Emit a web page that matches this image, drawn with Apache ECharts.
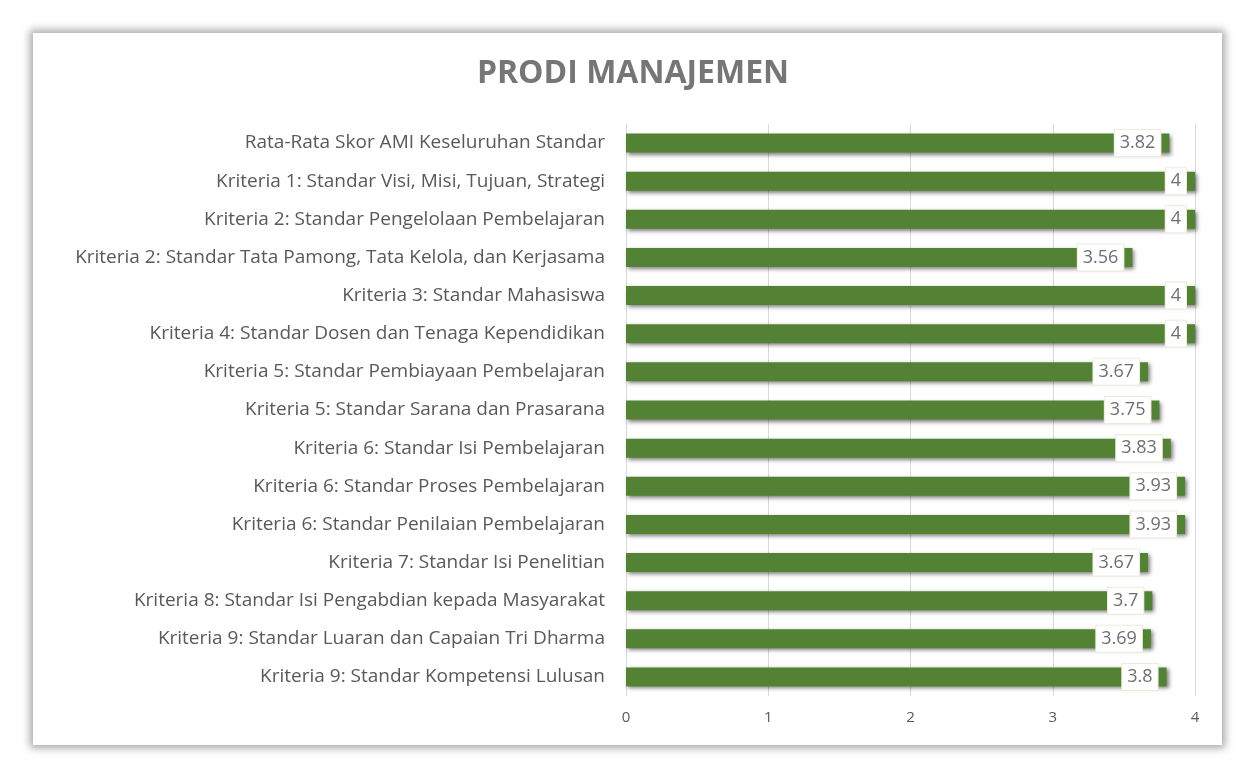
<!DOCTYPE html>
<html><head><meta charset="utf-8">
<script src="https://cdn.jsdelivr.net/npm/echarts@6/dist/echarts.min.js"></script>
<style>
html,body{margin:0;padding:0;background:#fff;width:1256px;height:777px;overflow:hidden}
#card{position:absolute;left:33px;top:33px;width:1189px;height:712px;background:#fff;box-shadow:0 0 8px 3px rgba(0,0,0,0.35)}
#c{position:absolute;left:0;top:0;width:1256px;height:777px}
</style></head><body>
<div id="card"></div><div id="c"></div>
<script>
const categories = [
"Rata-Rata Skor AMI Keseluruhan Standar",
"Kriteria 1: Standar Visi, Misi, Tujuan, Strategi",
"Kriteria 2: Standar Pengelolaan Pembelajaran",
"Kriteria 2: Standar Tata Pamong, Tata Kelola, dan Kerjasama",
"Kriteria 3: Standar Mahasiswa",
"Kriteria 4: Standar Dosen dan Tenaga Kependidikan",
"Kriteria 5: Standar Pembiayaan Pembelajaran",
"Kriteria 5: Standar Sarana dan Prasarana",
"Kriteria 6: Standar Isi Pembelajaran",
"Kriteria 6: Standar Proses Pembelajaran",
"Kriteria 6: Standar Penilaian Pembelajaran",
"Kriteria 7: Standar Isi Penelitian",
"Kriteria 8: Standar Isi Pengabdian kepada Masyarakat",
"Kriteria 9: Standar Luaran dan Capaian Tri Dharma",
"Kriteria 9: Standar Kompetensi Lulusan"
];
const values = [3.82,4,4,3.56,4,4,3.67,3.75,3.83,3.93,3.93,3.67,3.7,3.69,3.8];
const chart = echarts.init(document.getElementById('c'));
chart.setOption({
  backgroundColor:'transparent',
  animation:false,
  title:{text:'PRODI MANAJEMEN',left:628,top:53,textAlign:'center',
    textStyle:{fontFamily:'Open Sans',fontSize:32,fontWeight:'bold',color:'#767676'}},
  grid:{left:626,right:61,top:124,bottom:81},
  xAxis:{type:'value',min:0,max:4,interval:1,
    axisLabel:{fontFamily:'Open Sans',fontSize:15,color:'#595959',margin:14},
    splitLine:{lineStyle:{color:'#d9d9d9'}},axisLine:{show:false},axisTick:{show:false}},
  yAxis:{type:'category',data:categories,inverse:true,
    axisLabel:{fontFamily:'Open Sans',fontSize:19,color:'#595959',margin:21},
    axisLine:{show:true,lineStyle:{color:'#d9d9d9'}},axisTick:{show:false}},
  series:[{type:'bar',data:values,barWidth:19,
    itemStyle:{color:'#548235',shadowColor:'rgba(0,0,0,0.5)',shadowBlur:4,shadowOffsetX:2,shadowOffsetY:2},
    label:{show:true,position:'insideRight',offset:[-4,0],
      fontFamily:'Open Sans',fontSize:18,color:'#6f6f6f',
      backgroundColor:'#fff',borderColor:'#ecebd8',borderWidth:1,padding:[5,5,3,5]}}]
});
</script></body></html>
